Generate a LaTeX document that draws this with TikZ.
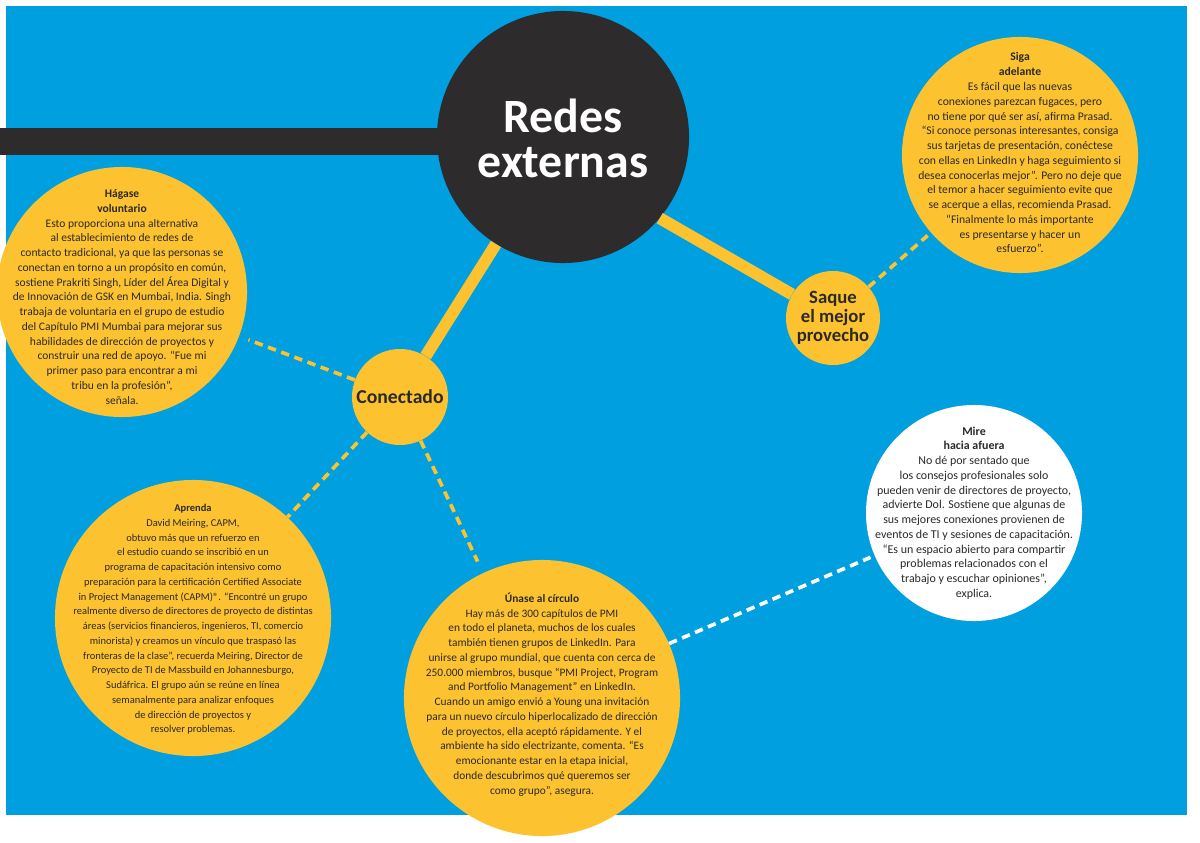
\documentclass[tikz,border=0pt]{standalone}
\usepackage{fontspec}
\setmainfont{Carlito}

\definecolor{skyblue}{HTML}{009FDF}
\definecolor{sunyellow}{HTML}{FDC22F}
\definecolor{coal}{HTML}{2D2B2C}
\definecolor{ink}{HTML}{2B2A29}

\tikzset{
  bubble/.style={circle, fill=sunyellow, inner sep=0pt, minimum size=#1},
  tiptext/.style={align=center, text=ink, font=\fontsize{#1}{10.5pt}\selectfont},
  hubtext/.style={align=center, text=ink, font=\fontsize{#1}{#1}\selectfont\bfseries},
  mainlink/.style={sunyellow, line width=8.5pt},
  dashlink/.style={sunyellow, line width=2.6pt, dash pattern=on 6pt off 4pt},
}

\begin{document}
\begin{tikzpicture}[x=0.025cm, y=-0.025cm]
    \useasboundingbox (0,0) rectangle (1200,842);
    % 背景
    \fill[skyblue] (6,6) rectangle (1187,815);
    \fill[coal] (0,128) rectangle (480,155);

    % 圆
    \node[bubble=6.3cm, fill=coal] (redes) at (563,137) {};
    \node[bubble=2.4cm] (conectado) at (400,397) {};
    \node[bubble=2.35cm] (saque) at (833,318) {};
    \node[bubble=6.25cm] (hagase) at (122,292) {};
    \node[bubble=5.9cm] (siga) at (1020,155) {};
    \node[bubble=5.4cm, fill=white] (mire) at (974,513) {};
    \node[bubble=6.9cm] (aprenda) at (193,618) {};
    \node[bubble=6.9cm] (unase) at (542,698) {};

    % 连线
    \draw[mainlink] (conectado) -- (redes);
    \draw[mainlink] (saque) -- (redes.-40);
    \draw[dashlink, shorten >=7pt] (conectado) -- (hagase);
    \draw[dashlink] (conectado) -- (aprenda);
    \draw[dashlink, shorten >=9pt] (conectado) -- (unase);
    \draw[dashlink, shorten >=3pt] (saque) -- (siga);
    \draw[dashlink, white, shorten >=3pt] (unase) -- (mire);

    % 文字
    \node[align=center, text=white, font=\fontsize{34}{32}\selectfont\bfseries] (titulo) at ([yshift=-1pt]redes) {Redes\\externas};
    \node[hubtext=14] (conectadotxt) at (conectado) {Conectado};
    \node[hubtext=13.3] (saquetxt) at (saque) {Saque\\el mejor\\provecho};

    \node[tiptext=8.2] (hagasetxt) at ([yshift=-3.5pt]hagase) {{\bfseries Hágase}\\{\bfseries voluntario}\\
      Esto proporciona una alternativa\\
      al establecimiento de redes de\\
      contacto tradicional, ya que las personas se\\
      conectan en torno a un propósito en común,\\
      sostiene Prakriti Singh, Líder del Área Digital y\\
      de Innovación de GSK en Mumbai, India. Singh\\
      trabaja de voluntaria en el grupo de estudio\\
      del Capítulo PMI Mumbai para mejorar sus\\
      habilidades de dirección de proyectos y\\
      construir una red de apoyo. “Fue mi\\
      primer paso para encontrar a mi\\
      tribu en la profesión”,\\
      señala.};

    \node[tiptext=8.3] (sigatxt) at ([yshift=1.5pt]siga) {{\bfseries Siga}\\{\bfseries adelante}\\
      Es fácil que las nuevas\\
      conexiones parezcan fugaces, pero\\
      no tiene por qué ser así, afirma Prasad.\\
      “Si conoce personas interesantes, consiga\\
      sus tarjetas de presentación, conéctese\\
      con ellas en LinkedIn y haga seguimiento si\\
      desea conocerlas mejor”. Pero no deje que\\
      el temor a hacer seguimiento evite que\\
      se acerque a ellas, recomienda Prasad.\\
      “Finalmente lo más importante\\
      es presentarse y hacer un\\
      esfuerzo”.};

    \node[tiptext=8.5] (miretxt) at (mire) {{\bfseries Mire}\\{\bfseries hacia afuera}\\
      No dé por sentado que\\
      los consejos profesionales solo\\
      pueden venir de directores de proyecto,\\
      advierte Dol. Sostiene que algunas de\\
      sus mejores conexiones provienen de\\
      eventos de TI y sesiones de capacitación.\\
      “Es un espacio abierto para compartir\\
      problemas relacionados con el\\
      trabajo y escuchar opiniones”,\\
      explica.};

    \node[tiptext=7.45] (aprendatxt) at ([yshift=-1pt]aprenda) {{\bfseries Aprenda}\\
      David Meiring, CAPM,\\
      obtuvo más que un refuerzo en\\
      el estudio cuando se inscribió en un\\
      programa de capacitación intensivo como\\
      preparación para la certificación Certified Associate\\
      in Project Management (CAPM)®. “Encontré un grupo\\
      realmente diverso de directores de proyecto de distintas\\
      áreas (servicios financieros, ingenieros, TI, comercio\\
      minorista) y creamos un vínculo que traspasó las\\
      fronteras de la clase”, recuerda Meiring, Director de\\
      Proyecto de TI de Massbuild en Johannesburgo,\\
      Sudáfrica. El grupo aún se reúne en línea\\
      semanalmente para analizar enfoques\\
      de dirección de proyectos y\\
      resolver problemas.};

    \node[tiptext=8.1] (unasetxt) at ([yshift=2.5pt]unase) {{\bfseries Únase al círculo}\\
      Hay más de 300 capítulos de PMI\\
      en todo el planeta, muchos de los cuales\\
      también tienen grupos de LinkedIn. Para\\
      unirse al grupo mundial, que cuenta con cerca de\\
      250.000 miembros, busque “PMI Project, Program\\
      and Portfolio Management” en LinkedIn.\\
      Cuando un amigo envió a Young una invitación\\
      para un nuevo círculo hiperlocalizado de dirección\\
      de proyectos, ella aceptó rápidamente. Y el\\
      ambiente ha sido electrizante, comenta. “Es\\
      emocionante estar en la etapa inicial,\\
      donde descubrimos qué queremos ser\\
      como grupo”, asegura.};
\end{tikzpicture}
\end{document}
